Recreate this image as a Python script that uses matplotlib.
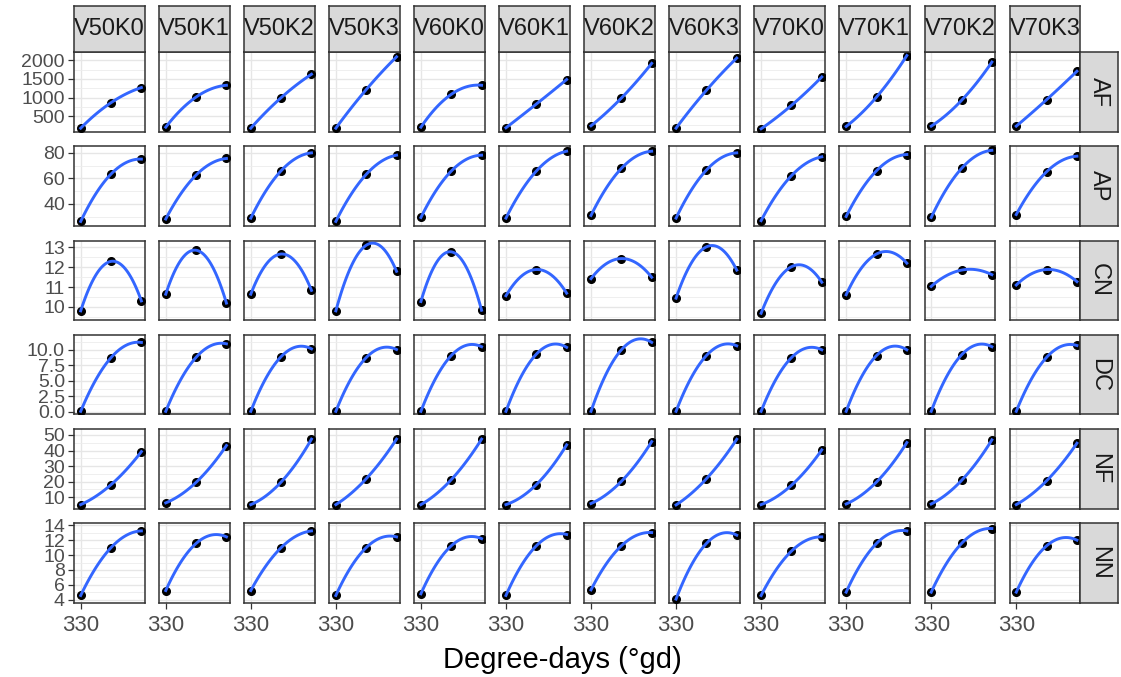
import numpy as np
import matplotlib
matplotlib.use('Agg')
import matplotlib.pyplot as plt
from matplotlib.ticker import FixedLocator

plt.rcParams['font.family'] = ['Liberation Sans', 'DejaVu Sans']

# facet labels
treatments = ['V50K0', 'V50K1', 'V50K2', 'V50K3', 'V60K0', 'V60K1',
              'V60K2', 'V60K3', 'V70K0', 'V70K1', 'V70K2', 'V70K3']
variables = ['AF', 'AP', 'CN', 'DC', 'NF', 'NN']

degree_days = [330, 660, 990]

# values, one triple per treatment
af_vals = [[176, 862, 1268], [203, 1013, 1330], [176, 997, 1627], [176, 1213, 2095],
           [203, 1086, 1330], [186, 824, 1484], [240, 986, 1919], [176, 1195, 2062],
           [159, 789, 1554], [222, 1013, 2130], [230, 924, 1954], [230, 943, 1708]]
ap_vals = [[26.2, 63.4, 75.1], [28.1, 62.6, 75.6], [28.8, 66.0, 80.0], [26.2, 63.1, 78.2],
           [29.3, 65.7, 78.2], [28.8, 65.7, 81.3], [30.9, 67.8, 81.3], [28.8, 66.5, 80.0],
           [26.8, 62.1, 76.9], [30.1, 66.0, 78.7], [29.3, 67.8, 82.0], [31.6, 65.2, 77.4]]
cn_vals = [[9.80, 12.29, 10.30], [10.64, 12.85, 10.19], [10.64, 12.66, 10.83], [9.80, 13.10, 11.79],
           [10.27, 12.77, 9.83], [10.56, 11.88, 10.69], [11.42, 12.43, 11.49], [10.44, 13.02, 11.85],
           [9.68, 12.02, 11.24], [10.61, 12.66, 12.20], [11.03, 11.85, 11.62], [11.10, 11.88, 11.27]]
dc_vals = [[0.1, 8.75, 11.19], [0.1, 8.80, 10.97], [0.1, 8.91, 10.16], [0.1, 8.75, 10.05],
           [0.1, 9.08, 10.50], [0.1, 9.30, 10.40], [0.1, 10.0, 11.20], [0.1, 9.08, 10.65],
           [0.1, 8.75, 10.0], [0.1, 9.08, 10.0], [0.1, 9.19, 10.50], [0.1, 8.80, 10.70]]
nf_vals = [[5.3, 18.1, 39.3], [6.4, 19.6, 43.2], [5.3, 19.8, 47.3], [5.3, 21.9, 47.3],
           [5.3, 21.3, 47.3], [5.3, 18.1, 43.6], [6.0, 20.2, 45.7], [5.1, 21.9, 47.2],
           [5.3, 17.7, 40.4], [5.7, 19.8, 45.1], [5.7, 20.8, 46.8], [5.3, 20.6, 44.7]]
nn_vals = [[4.58, 11.0, 13.24], [5.24, 11.56, 12.44], [5.24, 11.0, 13.24], [4.58, 11.0, 12.44],
           [4.8, 11.24, 12.2], [4.58, 11.24, 12.76], [5.33, 11.24, 13.02], [4.09, 11.56, 12.67],
           [4.58, 10.53, 12.44], [5.02, 11.56, 13.24], [5.02, 11.56, 13.56], [5.02, 11.24, 12.0]]

all_vals = [af_vals, ap_vals, cn_vals, dc_vals, nf_vals, nn_vals]

y_ticks = [[500, 1000, 1500, 2000], [40, 60, 80], [10, 11, 12, 13],
           [0.0, 2.5, 5.0, 7.5, 10.0], [10, 20, 30, 40, 50], [4, 6, 8, 10, 12, 14]]
y_ticklabels = [['500', '1000', '1500', '2000'], ['40', '60', '80'], ['10', '11', '12', '13'],
                ['0.0', '2.5', '5.0', '7.5', '10.0'], ['10', '20', '30', '40', '50'],
                ['4', '6', '8', '10', '12', '14']]
y_limits = [(86, 2225), (22.8, 85.2), (9.34, 13.34), (-0.37, 12.43), (2.8, 53.8), (3.6, 14.27)]
x_limits = (257, 1026)

W, H = 1121, 677
fig = plt.figure(figsize=(W / 100, H / 100), dpi=100)


def box(left, top, w, h):
    return [left / W, 1 - (top + h) / H, w / W, h / H]


def strip(rect, label, rot):
    s = fig.add_axes(rect)
    s.set_facecolor('#D9D9D9')
    s.set_xticks([])
    s.set_yticks([])
    for sp in s.spines.values():
        sp.set_color('#333333')
        sp.set_linewidth(1.1)
    s.text(0.5, 0.5, label, transform=s.transAxes, ha='center', va='center',
           fontsize=17, color='#1A1A1A', rotation=rot)


col_left, col_pitch, pw = 74, 85.05, 70.7
row_top, row_pitch, ph = 52, 94.25, 79.5

for j, var in enumerate(variables):
    ticks = np.array(y_ticks[j])
    step = ticks[1] - ticks[0]
    minors = np.concatenate([[ticks[0] - step / 2], ticks[:-1] + step / 2, [ticks[-1] + step / 2]])
    for i, trt in enumerate(treatments):
        left = col_left + i * col_pitch
        top = row_top + j * row_pitch
        ax = fig.add_axes(box(left, top, pw, ph))
        y = np.array(all_vals[j][i], dtype=float)
        x = np.array(degree_days, dtype=float)
        coef = np.polyfit(x, y, 2)
        xs = np.linspace(x[0], x[-1], 80)
        ax.plot(xs, np.polyval(coef, xs), color='#3366FF', lw=2.1, zorder=4)
        ax.plot(x, y, 'o', color='black', ms=5.5, zorder=3)

        ax.set_xlim(*x_limits)
        ax.set_ylim(*y_limits[j])
        ax.set_xticks([330])
        ax.set_xticklabels(['330'])
        ax.set_yticks(ticks)
        ax.set_yticklabels(y_ticklabels[j])
        ax.yaxis.set_minor_locator(FixedLocator(minors))
        ax.grid(which='major', axis='both', color='#E6E6E6', lw=1.0, zorder=0)
        ax.grid(which='minor', axis='y', color='#EDEDED', lw=0.6, zorder=0)
        ax.set_axisbelow(True)
        for sp in ax.spines.values():
            sp.set_color('#333333')
            sp.set_linewidth(1.1)
        ax.tick_params(which='minor', length=0)
        ax.tick_params(axis='y', length=4.5, width=0.9, color='#333333',
                       labelsize=14, labelcolor='#4D4D4D', pad=2,
                       left=(i == 0), labelleft=(i == 0))
        ax.tick_params(axis='x', length=4.5, width=0.9, color='#333333',
                       labelsize=16, labelcolor='#4D4D4D', pad=4,
                       bottom=(j == len(variables) - 1),
                       labelbottom=(j == len(variables) - 1))

        if j == 0:
            strip(box(left, 6, pw, 46), trt, 0)
    strip(box(col_left + 11 * col_pitch + pw, row_top + j * row_pitch, 38, ph), var, 270)

fig.text(562 / W, 1 - 660 / H, 'Degree-days (°gd)', ha='center', va='center',
         fontsize=21, color='black')

fig.savefig('out.png', dpi=100, facecolor='white')
